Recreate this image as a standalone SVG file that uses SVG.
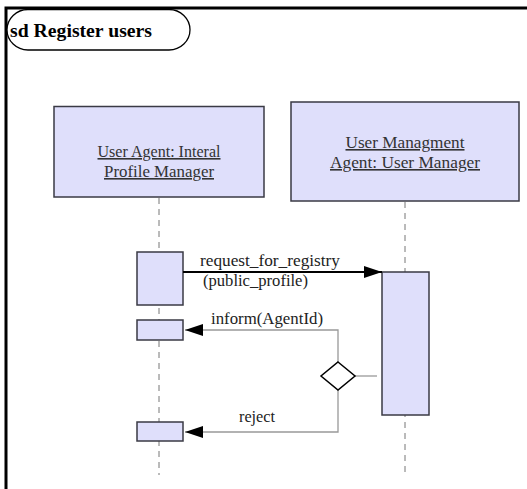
<svg xmlns="http://www.w3.org/2000/svg" width="527" height="489" viewBox="0 0 527 489">
<style>
text{font-family:"Liberation Serif","Times New Roman",Times,"DejaVu Serif",serif}
.box{fill:#dfdffb;stroke:#3a3a44;stroke-width:1.5}
.lbl{font-size:16px;fill:#333;text-anchor:middle;text-decoration:underline}
.msg{font-size:16px;fill:#222}
.title{font-size:18px;font-weight:bold;fill:#000}
.life{stroke:#777;stroke-width:1;stroke-dasharray:6,5;fill:none}
.gline{stroke:#999;stroke-width:1.3;fill:none}
</style>
<defs>
<marker id="ah" viewBox="0 0 18 12" refX="18" refY="6" markerWidth="18" markerHeight="12" markerUnits="userSpaceOnUse" orient="auto">
<path d="M0,0 L18,6 L0,12 Z" fill="#000"/>
</marker>
</defs>
<rect width="527" height="489" fill="#fff"/>
<g id="frame">
<path d="M6,489 V8 H527" fill="none" stroke="#000" stroke-width="3"/>
<rect x="7" y="9.5" width="183" height="40.5" rx="21" ry="20.25" fill="#fff" stroke="#000" stroke-width="1.3"/>
<text class="title" x="10" y="37" textLength="142" lengthAdjust="spacingAndGlyphs">sd Register users</text>
</g>
<g id="lifelines">
<line class="life" x1="159" y1="198" x2="159" y2="475"/>
<line class="life" x1="405" y1="202" x2="405" y2="475"/>
</g>
<g id="userAgent">
<rect class="box" x="54" y="106.5" width="210" height="90.5"/>
<text class="lbl" x="159" y="157" textLength="123" lengthAdjust="spacingAndGlyphs">User Agent: Interal</text>
<text class="lbl" x="159" y="177" textLength="110" lengthAdjust="spacingAndGlyphs">Profile Manager</text>
</g>
<g id="userManagement">
<rect class="box" x="291" y="102" width="228" height="99"/>
<text class="lbl" x="405" y="148" textLength="119" lengthAdjust="spacingAndGlyphs">User Managment</text>
<text class="lbl" x="405" y="168" textLength="150" lengthAdjust="spacingAndGlyphs">Agent: User Manager</text>
</g>
<g id="activations">
<rect id="act1" class="box" x="137" y="252" width="46" height="53"/>
<rect id="act2" class="box" x="137" y="320" width="46" height="20"/>
<rect id="act3" class="box" x="137" y="422" width="46" height="19"/>
<rect id="act4" class="box" x="382" y="272" width="47" height="143"/>
</g>
<g id="connectors">
<line x1="183" y1="272" x2="382" y2="272" stroke="#000" stroke-width="2" marker-end="url(#ah)"/>
<path class="gline" d="M338,362 V330 H185" marker-end="url(#ah)"/>
<path class="gline" d="M338,390 V432 H185" marker-end="url(#ah)"/>
<line class="gline" x1="355" y1="376" x2="377" y2="376"/>
<polygon id="decision" points="338,362 355,376 338,390 321,376" fill="#fff" stroke="#000" stroke-width="1.5"/>
</g>
<g id="labels">
<text class="msg" x="200" y="266" textLength="140" lengthAdjust="spacingAndGlyphs">request_for_registry</text>
<text class="msg" x="203" y="286" textLength="105" lengthAdjust="spacingAndGlyphs">(public_profile)</text>
<text class="msg" x="211" y="324" textLength="112" lengthAdjust="spacingAndGlyphs">inform(AgentId)</text>
<text class="msg" x="239" y="422" textLength="36" lengthAdjust="spacingAndGlyphs">reject</text>
</g>
</svg>
